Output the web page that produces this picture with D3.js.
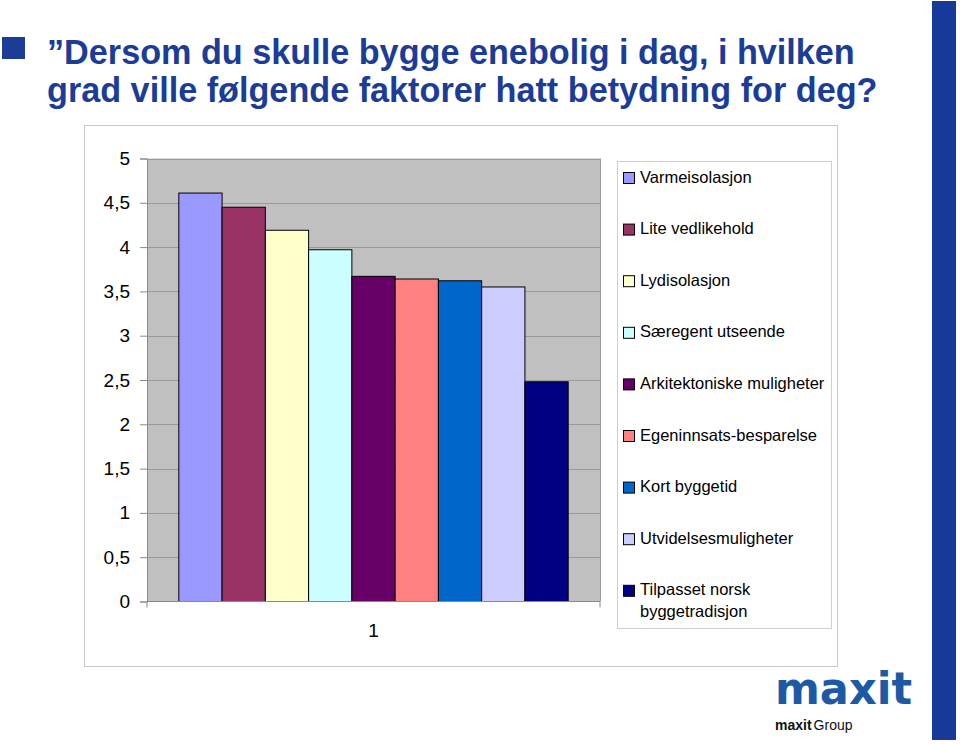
<!DOCTYPE html>
<html>
<head>
<meta charset="utf-8">
<script src="https://cdn.jsdelivr.net/npm/d3@7"></script>
<style>
  html, body { margin: 0; padding: 0; background: #ffffff; }
  svg { display: block; font-family: "Liberation Sans", Arial, sans-serif; }
</style>
</head>
<body>
<svg id="chart" width="960" height="744"></svg>
<script>
// ---- data ----
const categories = ["1"];
const seriesNames = [
  "Varmeisolasjon",
  "Lite vedlikehold",
  "Lydisolasjon",
  "Særegent utseende",
  "Arkitektoniske muligheter",
  "Egeninnsats-besparelse",
  "Kort byggetid",
  "Utvidelsesmuligheter",
  "Tilpasset norsk byggetradisjon"
];
const seriesValues = [4.61, 4.45, 4.19, 3.97, 3.67, 3.64, 3.62, 3.55, 2.48];
const seriesColors = ["#9999FF", "#993366", "#FFFFCC", "#CCFFFF", "#660066", "#FF8080", "#0066CC", "#CCCCFF", "#000080"];
const yTicks = [0, 0.5, 1, 1.5, 2, 2.5, 3, 3.5, 4, 4.5, 5];
const titleLines = [
  "\u201DDersom du skulle bygge enebolig i dag, i hvilken",
  "grad ville følgende faktorer hatt betydning for deg?"
];

// ---- layout ----
const svg = d3.select("#chart");
const plot = { left: 147, right: 600, top: 158.5, bottom: 601.5 };
const titleColor = "#1B3C97";

// right decorative bar & bullet
svg.append("rect").attr("x", 932).attr("y", 1).attr("width", 24).attr("height", 739).attr("fill", "#16399A");
svg.append("rect").attr("x", 2).attr("y", 37).attr("width", 23).attr("height", 22).attr("fill", titleColor);

// title
const titleG = svg.append("g");
const tl = titleG.selectAll("text").data(titleLines).join("text")
  .attr("x", 47).attr("y", (d, i) => 64 + i * 38)
  .attr("fill", titleColor).attr("font-weight", "bold")
  .attr("font-size", 32).text(d => d);
const w0 = tl.nodes()[0].getComputedTextLength();
const fs = 32 * 808 / w0;
tl.attr("font-size", fs);

// outer chart frame
svg.append("rect").attr("x", 84.5).attr("y", 125.5).attr("width", 753).attr("height", 541)
  .attr("fill", "#ffffff").attr("stroke", "#C8C8C8").attr("stroke-width", 1);

// scales
const x0 = d3.scaleBand().domain(categories).range([plot.left, plot.right])
  .paddingInner(0).paddingOuter(0.0817);
const x1 = d3.scaleBand().domain(seriesNames).range([0, x0.bandwidth()]).padding(0);
const y = d3.scaleLinear().domain([0, 5]).range([plot.bottom, plot.top]);

// plot background
svg.append("rect").attr("x", plot.left).attr("y", plot.top)
  .attr("width", plot.right - plot.left).attr("height", plot.bottom - plot.top)
  .attr("fill", "#C0C0C0");

// gridlines
svg.append("g").selectAll("line").data(yTicks.filter(d => d > 0)).join("line")
  .attr("x1", plot.left).attr("x2", plot.right)
  .attr("y1", d => Math.round(y(d)) + 0.5).attr("y2", d => Math.round(y(d)) + 0.5)
  .attr("stroke", "#9A9A9A").attr("stroke-width", 1);
// plot border right
svg.append("line").attr("x1", plot.right + 0.5).attr("x2", plot.right + 0.5)
  .attr("y1", plot.top).attr("y2", plot.bottom).attr("stroke", "#9A9A9A");

// bars
const fmt = d => String(d).replace(".", ",");
const barG = svg.append("g");
categories.forEach(cat => {
  barG.selectAll("rect.bar").data(seriesNames.map((s, i) => ({ s, v: seriesValues[i], c: seriesColors[i] })))
    .join("rect").attr("class", "bar")
    .attr("x", d => x0(cat) + x1(d.s))
    .attr("y", d => y(d.v))
    .attr("width", x1.bandwidth())
    .attr("height", d => y(0) - y(d.v))
    .attr("fill", d => d.c)
    .attr("stroke", "#000000").attr("stroke-width", 1);
});

// y axis
const yAxis = d3.axisLeft(y).tickValues(yTicks).tickFormat(fmt).tickSize(7).tickPadding(10);
const yg = svg.append("g").attr("transform", `translate(${plot.left},0)`).call(yAxis);
yg.select(".domain").attr("stroke", "#8A8A8A");
yg.selectAll(".tick line").attr("stroke", "#8A8A8A");
yg.selectAll(".tick text").attr("font-size", 19).attr("fill", "#000")
  .attr("font-family", "'Liberation Sans', Arial, sans-serif");

// x axis
const xAxis = d3.axisBottom(d3.scaleBand().domain(categories).range([plot.left, plot.right]))
  .tickSize(0).tickPadding(22);
const xg = svg.append("g").attr("transform", `translate(0,${plot.bottom})`).call(xAxis);
xg.select(".domain").attr("stroke", "#8A8A8A").attr("d", `M${plot.left},6V0H${plot.right}V6`);
xg.selectAll(".tick text").attr("font-size", 19).attr("fill", "#000")
  .attr("font-family", "'Liberation Sans', Arial, sans-serif");

// legend
const legend = { x: 617.5, y: 161.5, w: 214, h: 467 };
svg.append("rect").attr("x", legend.x).attr("y", legend.y).attr("width", legend.w).attr("height", legend.h)
  .attr("fill", "#ffffff").attr("stroke", "#CFCFCF");
const lg = svg.append("g");
const maxTextW = 190;
seriesNames.forEach((name, i) => {
  const sy = 172.5 + i * 51.6;
  lg.append("rect").attr("x", 623.5).attr("y", sy).attr("width", 11).attr("height", 11)
    .attr("fill", seriesColors[i]).attr("stroke", "#000").attr("stroke-width", 1);
  const t = lg.append("text").attr("x", 640).attr("y", sy + 10)
    .attr("font-size", 16.5).attr("fill", "#000");
  // simple word wrap
  const words = name.split(" ");
  let line = [];
  let ts = t.append("tspan").attr("x", 640).attr("dy", 0);
  words.forEach(w => {
    line.push(w);
    ts.text(line.join(" "));
    if (ts.node().getComputedTextLength() > maxTextW && line.length > 1) {
      line.pop();
      ts.text(line.join(" "));
      line = [w];
      ts = t.append("tspan").attr("x", 640).attr("dy", 22).text(w);
    }
  });
});

// logo
svg.append("text").attr("x", 775).attr("y", 704).attr("fill", "#1D5AA6")
  .attr("font-family", "'DejaVu Sans', sans-serif").attr("font-weight", "bold")
  .attr("font-size", 44).attr("textLength", 137).attr("lengthAdjust", "spacingAndGlyphs")
  .text("maxit");
const lt = svg.append("text").attr("x", 775).attr("y", 730).attr("font-size", 14).attr("fill", "#111");
lt.append("tspan").attr("font-weight", "bold").text("maxit");
lt.append("tspan").attr("dx", 2).text("Group");
</script>
</body>
</html>
